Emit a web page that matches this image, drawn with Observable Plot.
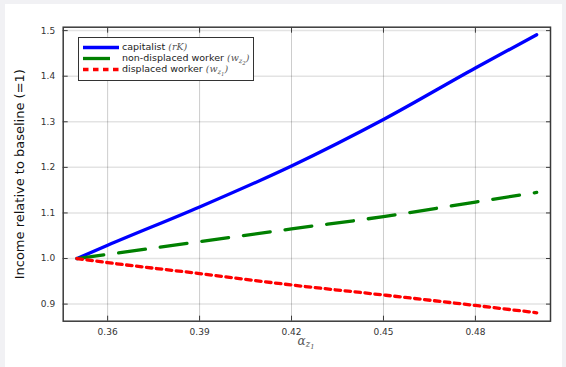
<!DOCTYPE html>
<html>
<head>
<meta charset="utf-8">
<script src="https://cdn.jsdelivr.net/npm/d3@7"></script>
<script src="https://cdn.jsdelivr.net/npm/@observablehq/plot@0.6"></script>
<style>
  html, body { margin: 0; padding: 0; width: 566px; height: 367px; overflow: hidden; background: #f1f1f4; font-family: "DejaVu Sans", sans-serif; }
  #card { position: absolute; left: 5px; top: 4px; right: 4px; bottom: 0; background: #fff; }
  #chart { position: absolute; left: 0; top: 0; }
  #chart svg { background: transparent; }
  .math { font-family: "DejaVu Serif", serif; font-style: italic; color: #555; }
  #legend { position: absolute; left: 78px; top: 37px; width: 176px; height: 44px; border: 1px solid #333; background: #fff; box-sizing: border-box; font-size: 9.5px; color: #222; }
  .row { position: absolute; left: 0; height: 11px; white-space: nowrap; }
  .row svg { position: absolute; left: 4px; top: 0; }
  .row span.t { position: absolute; left: 43px; top: -1px; line-height: 11px; }
  sub { font-size: 70%; vertical-align: -2px; line-height: 0; }
  sub sub { font-size: 80%; vertical-align: -1.5px; }
  #xlabel { position: absolute; left: 306px; top: 336px; transform: translateX(-50%); font-size: 12px; line-height: 10px; }
</style>
</head>
<body>
<div id="card"></div>
<div id="chart"></div>
<div id="legend"></div>
<div id="xlabel" class="math">α<sub>z<sub>1</sub></sub></div>
<script>
// Data
const alpha = [0.35, 0.36, 0.39, 0.42, 0.45, 0.48, 0.50];
const capitalist = [1.0, 1.029, 1.113, 1.203, 1.305, 1.418, 1.491];
const nonDisplaced = [1.0, 1.009, 1.037, 1.065, 1.092, 1.124, 1.145];
const displaced = [1.0, 0.991, 0.967, 0.942, 0.920, 0.897, 0.881];
const xTicks = [0.36, 0.39, 0.42, 0.45, 0.48];
const yTicks = [0.9, 1.0, 1.1, 1.2, 1.3, 1.4, 1.5];
const seriesNames = ["capitalist", "non-displaced worker", "displaced worker"];
const yLabel = "Income relative to baseline (=1)";

const mk = (vals) => alpha.map((a, i) => ({x: a, y: vals[i]}));
const capData = mk(capitalist), nonData = mk(nonDisplaced), disData = mk(displaced);

const frameColor = "#3a3a3a";
const plot = Plot.plot({
  width: 566,
  height: 367,
  marginLeft: 62.7,
  marginRight: 16,
  marginTop: 26.7,
  marginBottom: 46.3,
  style: {fontFamily: "DejaVu Sans", fontSize: "9px", color: frameColor, background: "transparent"},
  x: {domain: [0.3455, 0.5045]},
  y: {domain: [0.8625, 1.5075]},
  marks: [
    Plot.gridY(yTicks, {stroke: "#000", strokeOpacity: 0.11, strokeWidth: 1.5}),
    Plot.gridX(xTicks, {stroke: "#000", strokeOpacity: 0.2, strokeWidth: 1}),
    Plot.line(capData, {x: "x", y: "y", stroke: "#0000ff", strokeWidth: 3.3, curve: "monotone-x"}),
    Plot.line(nonData, {x: "x", y: "y", stroke: "#008000", strokeWidth: 3.3, strokeDasharray: "27,15", curve: "monotone-x"}),
    Plot.line(disData, {x: "x", y: "y", stroke: "#ff0000", strokeWidth: 3.3, strokeDasharray: "5.5,4.5", curve: "monotone-x"}),
    Plot.frame({stroke: frameColor, strokeWidth: 1.5}),
    Plot.axisX(xTicks, {anchor: "bottom", tickSize: 0, tickPadding: 7, tickFormat: d3.format(".2f"), label: null, fill: "#333"}),
    Plot.axisX(xTicks, {anchor: "bottom", tickSize: -5, tickFormat: () => "", label: null, stroke: frameColor}),
    Plot.axisX(xTicks, {anchor: "top", tickSize: -5, tickFormat: () => "", label: null, stroke: frameColor}),
    Plot.axisY(yTicks, {anchor: "left", tickSize: 0, tickPadding: 8, tickFormat: d3.format(".1f"), label: null, fill: "#333"}),
    Plot.axisY(yTicks, {anchor: "left", tickSize: -5, tickFormat: () => "", label: null, stroke: frameColor}),
    Plot.axisY(yTicks, {anchor: "right", tickSize: -5, tickFormat: () => "", label: null, stroke: frameColor}),
    Plot.text([yLabel], {frameAnchor: "left", rotate: -90, dx: -43, fontSize: 13, fill: "#111", lineAnchor: "middle", textAnchor: "middle"})
  ]
});
document.getElementById("chart").appendChild(plot);

// Legend
const legendItems = [
  {name: seriesNames[0], color: "#0000ff", dash: null, math: "(<i>rK</i>)"},
  {name: seriesNames[1], color: "#008000", dash: "27,15", math: "(<i>w</i><sub>z<sub>2</sub></sub>)"},
  {name: seriesNames[2], color: "#ff0000", dash: "5.5,4.5", math: "(<i>w</i><sub>z<sub>1</sub></sub>)"}
];
const legend = document.getElementById("legend");
legendItems.forEach((it, i) => {
  const row = document.createElement("div");
  row.className = "row";
  row.style.top = (4 + i * 10.9) + "px";
  row.innerHTML = `<svg width="38" height="11"><line x1="0" x2="36" y1="5.5" y2="5.5" stroke="${it.color}" stroke-width="3.3" ${it.dash ? `stroke-dasharray="${it.dash}"` : ""}/></svg>` +
    `<span class="t">${it.name} <span class="math">${it.math}</span></span>`;
  legend.appendChild(row);
});
</script>
</body>
</html>
